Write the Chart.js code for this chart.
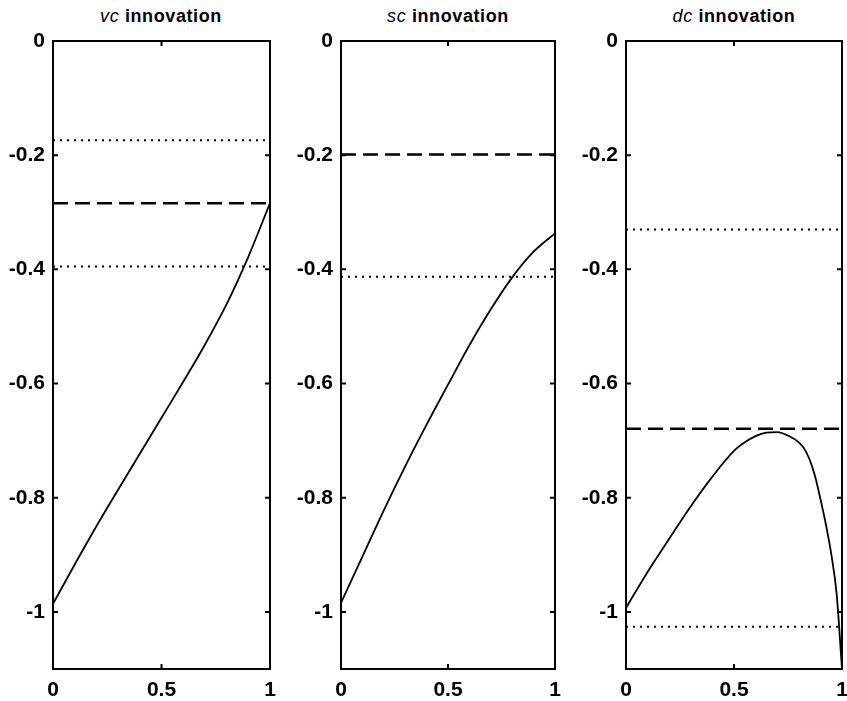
<!DOCTYPE html>
<html>
<head>
<meta charset="utf-8">
<script src="https://cdn.jsdelivr.net/npm/chart.js@4.4.1/dist/chart.umd.min.js"></script>
<style>
  html, body { margin: 0; padding: 0; background: #fff; }
  body { width: 847px; height: 701px; position: relative; overflow: hidden; }
  .panel { position: absolute; top: 0; height: 701px; }
  .title { position: absolute; top: 6px; font-family: "Liberation Sans", Arial, sans-serif;
           font-weight: bold; font-size: 18px; color: #000; text-align: center; white-space: nowrap;
           letter-spacing: 0.6px; }
  .title i { font-weight: normal; }
</style>
</head>
<body>
<div class="title" id="t1" style="left:61px;width:200px;"><i>vc</i> innovation</div>
<div class="title" id="t2" style="left:348px;width:200px;"><i>sc</i> innovation</div>
<div class="title" id="t3" style="left:634px;width:200px;"><i>dc</i> innovation</div>
<div class="panel" style="left:0px;width:285px;"><canvas id="c1"></canvas></div>
<div class="panel" style="left:288px;width:282px;"><canvas id="c2"></canvas></div>
<div class="panel" style="left:573px;width:284px;"><canvas id="c3"></canvas></div>
<script>
// ---- data ----
const xTickValues = [0, 0.5, 1];
const yTickValues = [0, -0.2, -0.4, -0.6, -0.8, -1];

const vcX      = [0, 0.1, 0.2, 0.3, 0.4, 0.5, 0.6, 0.7, 0.8, 0.9, 1.0];
const vcCurve  = [-0.986, -0.917, -0.850, -0.786, -0.723, -0.660, -0.597, -0.532, -0.461, -0.378, -0.284];
const vcDashed = -0.284;
const vcDotted = [-0.174, -0.395];

const scX      = [0, 0.1, 0.2, 0.3, 0.4, 0.5, 0.6, 0.7, 0.8, 0.9, 1.0];
const scCurve  = [-0.984, -0.903, -0.822, -0.745, -0.672, -0.602, -0.533, -0.470, -0.414, -0.369, -0.337];
const scDashed = -0.199;
const scDotted = [-0.413];

const dcX      = [0, 0.1, 0.2, 0.3, 0.4, 0.5, 0.55, 0.6, 0.65, 0.7, 0.75, 0.8, 0.825, 0.85, 0.875, 0.9, 0.925, 0.95, 0.975, 1.0];
const dcCurve  = [-0.993, -0.930, -0.872, -0.815, -0.763, -0.718, -0.703, -0.692, -0.686, -0.685, -0.691, -0.703, -0.714, -0.733, -0.762, -0.802, -0.846, -0.898, -0.968, -1.10];
const dcDashed = -0.679;
const dcDotted = [-0.330, -1.026];

// ---- helpers ----
const FONT = { family: '"Liberation Sans", Arial, sans-serif', size: 21, weight: 'bold' };

function fmt(v) { return String(Math.round(v * 10) / 10); }

const boxTicks = {
  id: 'boxTicks',
  afterDraw(chart) {
    const { ctx, chartArea: a, scales } = chart;
    ctx.save();
    ctx.strokeStyle = '#000';
    ctx.lineWidth = 2;
    ctx.strokeRect(a.left, a.top, a.right - a.left, a.bottom - a.top);
    const L = 5;
    ctx.beginPath();
    xTickValues.forEach(v => {
      const px = scales.x.getPixelForValue(v);
      ctx.moveTo(px, a.bottom); ctx.lineTo(px, a.bottom - L);
      ctx.moveTo(px, a.top); ctx.lineTo(px, a.top + L);
    });
    yTickValues.forEach(v => {
      const py = scales.y.getPixelForValue(v);
      ctx.moveTo(a.left, py); ctx.lineTo(a.left + L, py);
      ctx.moveTo(a.right, py); ctx.lineTo(a.right - L, py);
    });
    ctx.stroke();
    ctx.restore();
  }
};

function hline(v, dash, width) {
  return {
    data: [{ x: 0, y: v }, { x: 1, y: v }],
    borderColor: '#000', borderWidth: width, borderDash: dash,
    pointRadius: 0, tension: 0
  };
}

function makeChart(id, xs, ys, dashed, dotted, padRight) {
  const datasets = [];
  dotted.forEach(v => datasets.push(hline(v, [2, 5], 2)));
  datasets.push(hline(dashed, [15, 7], 2.5));
  datasets.push({
    data: xs.map((x, i) => ({ x: x, y: ys[i] })),
    borderColor: '#000', borderWidth: 1.8, pointRadius: 0,
    cubicInterpolationMode: 'monotone'
  });
  return new Chart(document.getElementById(id), {
    type: 'line',
    data: { datasets },
    options: {
      responsive: true, maintainAspectRatio: false, animation: false,
      layout: { padding: { top: 41, right: padRight, bottom: 0, left: 0 } },
      plugins: { legend: { display: false }, tooltip: { enabled: false }, title: { display: false } },
      scales: {
        x: {
          type: 'linear', min: 0, max: 1,
          grid: { display: false, drawTicks: false }, border: { display: false },
          afterBuildTicks: ax => { ax.ticks = xTickValues.map(v => ({ value: v })); },
          afterFit: ax => { ax.height = 32; },
          ticks: { color: '#000', font: FONT, padding: 9, maxRotation: 0, callback: v => fmt(v) }
        },
        y: {
          type: 'linear', min: -1.1, max: 0,
          grid: { display: false, drawTicks: false }, border: { display: false },
          afterBuildTicks: ax => { ax.ticks = yTickValues.map(v => ({ value: v })); },
          afterFit: ax => { ax.width = 53; },
          ticks: { color: '#000', font: FONT, padding: 8, callback: v => fmt(v) }
        }
      }
    },
    plugins: [boxTicks]
  });
}

makeChart('c1', vcX, vcCurve, vcDashed, vcDotted, 15);
makeChart('c2', scX, scCurve, scDashed, scDotted, 15);
makeChart('c3', dcX, dcCurve, dcDashed, dcDotted, 15);
</script>
</body>
</html>
